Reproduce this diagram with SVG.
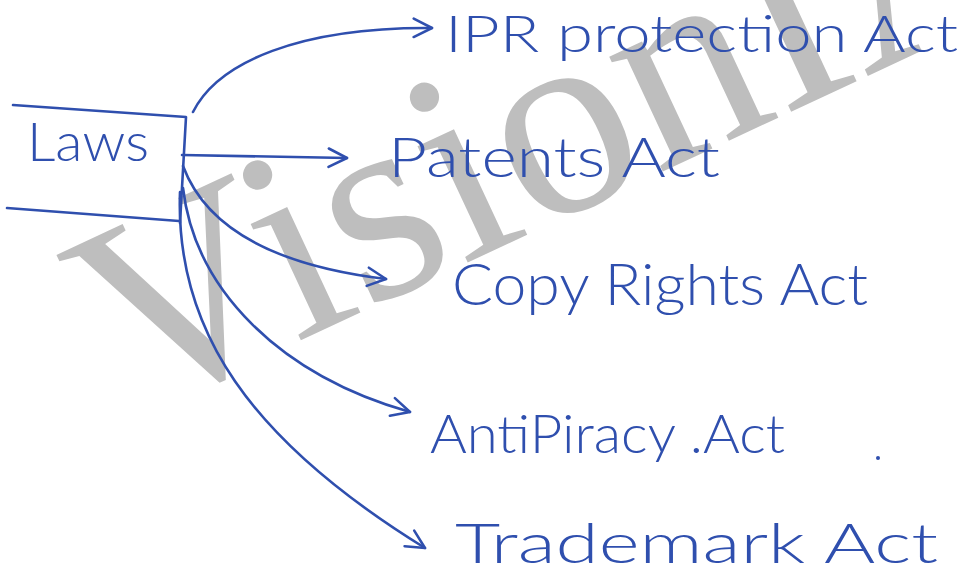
<svg xmlns="http://www.w3.org/2000/svg" width="960" height="577" viewBox="0 0 960 577">
<style>
.ink{fill:none;stroke:#2f4fae;stroke-width:2.6;stroke-linecap:round;stroke-linejoin:round}
.lbl{font-family:"Lato","Liberation Sans",Arial,sans-serif;font-weight:300;fill:#2f4fae}
.wm{font-family:"Liberation Serif","Times New Roman",serif;fill:#bebebe}
</style>
<defs>
<marker id="arr" viewBox="0 0 12 12" refX="11" refY="6" markerWidth="22" markerHeight="22" markerUnits="userSpaceOnUse" orient="auto">
<path d="M1,1 L11,6 L1,11" fill="none" stroke="#2f4fae" stroke-width="1.4" stroke-linecap="round" stroke-linejoin="round"/>
</marker>
</defs>
<rect width="960" height="577" fill="#ffffff"/>
<g id="watermark">
<text class="wm" x="130" y="420" font-size="276" transform="rotate(-25 130 420)">VisionIAS</text>
</g>
<g id="laws">
<path class="ink" d="M13,105 L186,117 L180,223 M7,208 L179,221"/>
<text class="lbl" x="27" y="161" font-size="54" textLength="122" lengthAdjust="spacingAndGlyphs">Laws</text>
</g>
<g id="connectors">
<path class="ink" marker-end="url(#arr)" d="M193,112 C218,62 300,27 432,28"/>
<path class="ink" marker-end="url(#arr)" d="M182,155 L347,158"/>
<path class="ink" marker-end="url(#arr)" d="M183,166 C205,225 270,265 386,279"/>
<path class="ink" marker-end="url(#arr)" d="M183,188 C195,290 280,375 410,412"/>
<path class="ink" marker-end="url(#arr)" d="M180,192 C175,330 250,440 425,548"/>
</g>
<g id="ipr">
<text class="lbl" x="445" y="52" font-size="52" textLength="513" lengthAdjust="spacingAndGlyphs">IPR protection Act</text>
</g>
<g id="patents">
<text class="lbl" x="388" y="177" font-size="56" textLength="332" lengthAdjust="spacingAndGlyphs">Patents Act</text>
</g>
<g id="copyrights">
<text class="lbl" x="452" y="305" font-size="58" textLength="416" lengthAdjust="spacingAndGlyphs">Copy Rights Act</text>
</g>
<g id="antipiracy">
<text class="lbl" x="430" y="453" font-size="54" textLength="355" lengthAdjust="spacingAndGlyphs">AntiPiracy .Act</text>
<circle cx="878" cy="458" r="2" fill="#2f4fae"/>
</g>
<g id="trademark">
<text class="lbl" x="455" y="563" font-size="56" textLength="483" lengthAdjust="spacingAndGlyphs">Trademark Act</text>
</g>
</svg>
